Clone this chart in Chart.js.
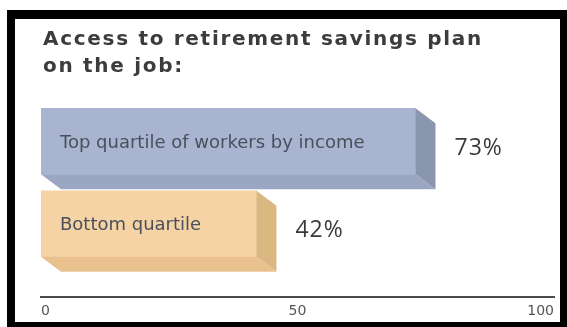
<!DOCTYPE html>
<html>
<head>
<meta charset="utf-8">
<script src="https://cdn.jsdelivr.net/npm/chart.js@4.4.1/dist/chart.umd.min.js"></script>
<style>
html, body { margin: 0; padding: 0; background: #fff; }
#wrap { position: relative; width: 567px; height: 327px; overflow: hidden; }
#frame { position: absolute; left: 7px; top: 10px; right: 0; bottom: 0; border-style: solid; border-color: #000; border-width: 9px 7px 5px 8px; pointer-events: none; }
canvas { position: absolute; left: 0; top: 0; }
</style>
</head>
<body>
<div id="wrap">
<canvas id="chart" width="567" height="327"></canvas>
<div id="frame"></div>
</div>
<script>
// chart data
const titleLines = ['Access to retirement savings plan', 'on the job:'];
const categories = ['Top quartile of workers by income', 'Bottom quartile'];
const values = [73, 42];
const valueLabels = ['73%', '42%'];
const tickValues = [0, 50, 100];

// look
const frontColors = ['#a9b5d0', '#f5d3a4'];
const bottomColors = ['#9aa6c2', '#e8c18e'];
const sideColors = ['#8a96ad', '#dbb782'];
const DX = 20, DY = 15; // 3d depth offset

const titlePlugin = {
  id: 'titleLines',
  afterDraw(chart) {
    const ctx = chart.ctx;
    ctx.save();
    ctx.font = 'bold 20px "DejaVu Sans"';
    ctx.letterSpacing = '1.7px';
    ctx.fillStyle = '#3c3c3c';
    ctx.textBaseline = 'alphabetic';
    ctx.fillText(titleLines[0], 43, 44.5);
    ctx.fillText(titleLines[1], 43, 72);
    ctx.restore();
  }
};

const depthBars = {
  id: 'depthBars',
  afterDatasetsDraw(chart) {
    const ctx = chart.ctx;
    const meta = chart.getDatasetMeta(0);
    meta.data.forEach((bar, i) => {
      const p = bar.getProps(['x', 'y', 'base', 'height'], true);
      const left = p.base, right = p.x;
      const top = p.y - p.height / 2, bottom = p.y + p.height / 2;
      ctx.save();
      // underside
      ctx.fillStyle = bottomColors[i];
      ctx.beginPath();
      ctx.moveTo(left, bottom);
      ctx.lineTo(right, bottom);
      ctx.lineTo(right + DX, bottom + DY);
      ctx.lineTo(left + DX, bottom + DY);
      ctx.closePath();
      ctx.fill();
      // right side
      ctx.fillStyle = sideColors[i];
      ctx.beginPath();
      ctx.moveTo(right, top);
      ctx.lineTo(right + DX, top + DY);
      ctx.lineTo(right + DX, bottom + DY);
      ctx.lineTo(right, bottom);
      ctx.closePath();
      ctx.fill();
      // category text inside bar
      ctx.font = '18px "DejaVu Sans"';
      ctx.fillStyle = '#4a4f5b';
      ctx.textBaseline = 'middle';
      ctx.fillText(categories[i], left + 19, p.y + 2);
      // value text
      ctx.font = '23px "Open Sans"';
      ctx.letterSpacing = '1px';
      ctx.fillStyle = '#3a3a3a';
      ctx.fillText(valueLabels[i], right + DX + 19, p.y + 7);
      ctx.restore();
    });
  }
};

new Chart(document.getElementById('chart'), {
  type: 'bar',
  data: {
    datasets: [{
      data: values.map((v, i) => ({ x: v, y: i })),
      backgroundColor: frontColors,
      borderWidth: 0,
      barThickness: 66
    }]
  },
  options: {
    indexAxis: 'y',
    responsive: false,
    animation: false,
    layout: { padding: { top: 100, left: 41, right: 13, bottom: 1 } },
    plugins: {
      legend: { display: false },
      tooltip: { enabled: false },
      title: { display: false }
    },
    scales: {
      x: {
        type: 'linear',
        min: 0,
        max: 100,
        afterBuildTicks: s => { s.ticks = tickValues.map(v => ({ value: v })); },
        grid: { display: false, drawTicks: false },
        border: { display: true, color: '#4a4a4a', width: 2 },
        ticks: { align: 'inner', padding: 6, color: '#555', font: { family: 'DejaVu Sans', size: 14 } }
      },
      y: { type: 'linear', reverse: true, offset: false, min: -0.5, max: 1.89, display: false }
    }
  },
  plugins: [titlePlugin, depthBars]
});
</script>
</body>
</html>
